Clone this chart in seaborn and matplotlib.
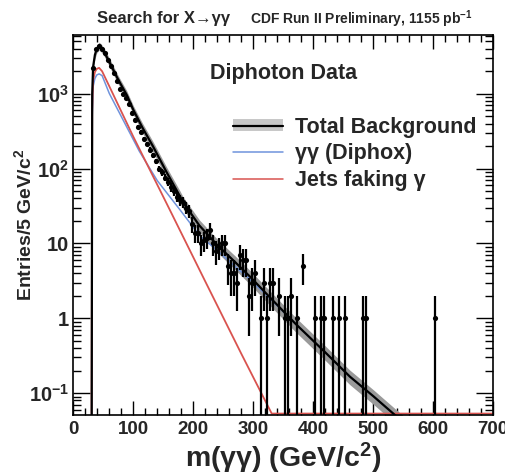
import numpy as np
import matplotlib
matplotlib.use("Agg")
import matplotlib.pyplot as plt
import seaborn as sns
from matplotlib.lines import Line2D
from matplotlib.patches import Patch
from matplotlib.ticker import FixedLocator, NullFormatter

# ---------------- data ----------------
# total background curve (mass knots, GeV/c^2 ; entries per 5 GeV)
total_m = [30.5, 31.5, 33, 36, 39, 43, 47, 52, 61, 75, 89, 100, 115, 133, 155,
           178, 183, 210, 240, 270, 294.5, 330, 370, 420, 461, 500, 536, 560]
total_v = [0.01, 1000, 2290, 3310, 3980, 4370, 4070, 3550, 2570, 1535, 966, 610,
           355, 197, 91, 42.3, 35.5, 17.4, 9.5, 5.6, 3.6, 1.82, 0.85, 0.35, 0.166,
           0.091, 0.051, 0.035]
band_frac = [0.12, 0.12, 0.12, 0.12, 0.12, 0.12, 0.12, 0.12, 0.13, 0.13, 0.14, 0.14,
             0.15, 0.16, 0.17, 0.18, 0.18, 0.19, 0.20, 0.21, 0.21, 0.22, 0.22, 0.22,
             0.22, 0.22, 0.22, 0.22]

# gamma-gamma (Diphox) component
diphox_m = [30.5, 31.5, 33, 36, 39, 43, 48, 60, 80, 110, 140, 178, 210, 240, 294.5,
            330, 370, 420, 461, 500, 536, 560]
diphox_v = [0.01, 500, 1250, 1600, 1780, 1845, 1750, 1010, 497, 171, 69, 28, 12.9,
            8.0, 3.3, 1.76, 0.85, 0.35, 0.166, 0.091, 0.051, 0.035]

# jets faking gamma component
jets_m = [30.5, 31.5, 33, 36, 39, 43, 48, 60, 100, 160, 220, 280, 330.7, 700]
jets_v = [0.01, 600, 1500, 1950, 2150, 2220, 2000, 1260, 267, 29, 3.1, 0.336, 0.051, 0.0001]

# diphoton data (bin centres, counts)
data_m = [32.5, 37.5, 42.5, 47.5, 52.5, 57.5, 62.5, 67.5, 72.5, 77.5, 82.5, 87.5,
          92.5, 97.5, 102.5, 107.5, 112.5, 117.5, 122.5, 127.5, 132.5, 137.5, 142.5,
          147.5, 152.5, 157.5, 162.5, 167.5, 172.5, 177.5, 182.5, 187.5, 192.5, 197.5,
          202.5, 207.5, 212.5, 217.5, 222.5, 227.5, 232.5, 237.5, 242.5, 247.5, 252.5,
          257.5, 262.5, 267.5, 272.5, 277.5, 282.5, 287.5, 292.5, 297.5, 302.5,
          312.5, 317.5, 322.5, 327.5, 332.5, 342.5, 352.5, 357.5, 362.5, 372.5, 382.5,
          402.5, 412.5, 417.5, 432.5, 442.5, 452.5, 482.5, 487.5, 602.5]
data_n = [2200, 3990, 4300, 4000, 3500, 2800, 2350, 1900, 1500, 1150, 1000, 880,
          720, 560, 450, 360, 310, 250, 215, 180, 150, 125, 100,
          90, 76, 66, 56, 50, 42, 38, 36, 30, 27, 18,
          14, 14, 10, 11, 12, 15, 10, 8, 9, 10, 10,
          5, 4, 4, 3, 7, 6, 6, 2, 3, 4,
          1, 3, 1, 3, 3, 2, 1, 1, 2, 1, 5,
          1, 1, 1, 1, 1, 1, 1, 1, 1]

x_ticks = [0, 100, 200, 300, 400, 500, 600, 700]
y_ticks = [0.1, 1, 10, 100, 1000]
y_ticklabels = [r'$\mathbf{10^{-1}}$', '1', '10', r'$\mathbf{10^{2}}$', r'$\mathbf{10^{3}}$']

YMIN, YMAX = 0.051, 6100

# ---------------- style ----------------
sns.set_style("ticks")
plt.rcParams['font.family'] = ['Liberation Sans', 'DejaVu Sans']
plt.rcParams['font.weight'] = 'bold'
plt.rcParams['mathtext.fontset'] = 'custom'
plt.rcParams['mathtext.rm'] = 'Liberation Sans:bold'
plt.rcParams['mathtext.bf'] = 'Liberation Sans:bold'
plt.rcParams['mathtext.it'] = 'Liberation Sans:bold'

fig = plt.figure(figsize=(5.06, 4.76), dpi=100)
ax = fig.add_axes([73.3/506, (476-415)/476, (493.3-73.3)/506, (415-35)/476])

tm = np.array(total_m)
tv = np.array(total_v)
bf = np.array(band_frac)
ax.fill_between(tm, tv*(1-bf), tv*(1+bf), color='#9a9a9a', lw=0, zorder=1)

sns.lineplot(x=diphox_m, y=diphox_v, ax=ax, color='#6f93dc', lw=1.1, sort=False,
             estimator=None, zorder=2)
sns.lineplot(x=jets_m, y=np.maximum(np.array(jets_v), YMIN*1.045), ax=ax, color='#d9534f',
             lw=1.3, sort=False, estimator=None, zorder=2)
sns.lineplot(x=total_m, y=total_v, ax=ax, color='black', lw=1.6, sort=False,
             estimator=None, zorder=3)

dn = np.array(data_n, dtype=float)
err = np.sqrt(dn)
lo = np.minimum(err, dn - YMIN*0.5)
ax.errorbar(data_m, dn, yerr=[lo, err], fmt='none', ecolor='black', elinewidth=1.6,
            capsize=0, zorder=4)
sns.scatterplot(x=data_m, y=data_n, ax=ax, color='black', s=14, linewidth=0, zorder=5)

ax.set_yscale('log')
ax.set_xlim(0, 700)
ax.set_ylim(YMIN, YMAX)

ax.set_xticks(x_ticks)
ax.set_xticklabels([str(t) for t in x_ticks], fontsize=13.5, fontweight='bold')
ax.xaxis.set_minor_locator(FixedLocator(np.arange(0, 701, 20)))
ax.set_yticks(y_ticks)
ax.set_yticklabels(y_ticklabels, fontsize=14.5, fontweight='bold')
minors = []
for d in range(-2, 4):
    for k in range(2, 10):
        minors.append(k * 10.0**d)
ax.yaxis.set_minor_locator(FixedLocator(minors))
ax.yaxis.set_minor_formatter(NullFormatter())

ax.tick_params(which='both', direction='in', top=True, right=True, color='black')
ax.tick_params(axis='x', which='major', length=10, width=1, pad=4)
ax.tick_params(axis='x', which='minor', length=5, width=1)
ax.tick_params(axis='y', which='major', length=12, width=1, pad=3)
ax.tick_params(axis='y', which='minor', length=6, width=1)
for sp in ax.spines.values():
    sp.set_linewidth(1.2)
    sp.set_color('black')

ax.set_xlabel(r'm(γγ) (GeV/c$^{\mathbf{2}}$)', fontsize=20.5, fontweight='bold', labelpad=2)
ax.set_ylabel(r'Entries/5 GeV/c$^{\mathbf{2}}$', fontsize=14, fontweight='bold')
ax.yaxis.set_label_coords(-0.09, 0.5)

fig.text(97/506, 1-19/476, 'Search for X→γγ', fontsize=12, fontweight='bold',
         ha='left', va='center')
fig.text(250/506, 1-19/476, r'CDF Run II Preliminary, 1155 pb$^{\mathbf{-1}}$',
         fontsize=10, fontweight='bold', ha='left', va='center')
ax.text(284/506, 1-73/476, 'Diphoton Data', transform=fig.transFigure, fontsize=15.5,
        fontweight='bold', ha='center', va='center')

handles = [(Patch(facecolor='#c8c8c8', edgecolor='none'), Line2D([], [], color='black', lw=1.6)),
           Line2D([], [], color='#6f93dc', lw=1.1),
           Line2D([], [], color='#d9534f', lw=1.1)]
labels = ['Total Background', 'γγ (Diphox)', 'Jets faking γ']
leg = ax.legend(handles, labels, loc='upper left', bbox_to_anchor=(233/506, 1-117/476),
                bbox_transform=fig.transFigure, frameon=False, fontsize=15.5,
                handlelength=2.3, handleheight=0.5, labelspacing=0.25, handletextpad=0.6,
                borderpad=0, borderaxespad=0)
for t in leg.get_texts():
    t.set_fontweight('bold')

fig.savefig('out.png', dpi=100)
